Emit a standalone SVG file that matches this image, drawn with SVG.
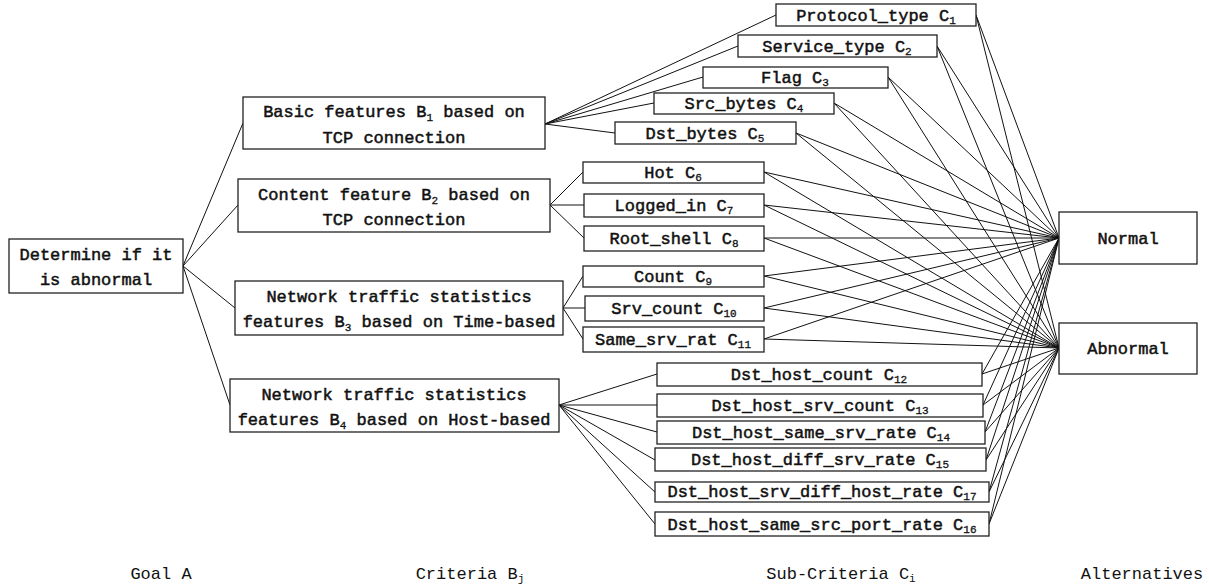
<svg xmlns="http://www.w3.org/2000/svg" width="1209" height="588" viewBox="0 0 1209 588">
<style>
rect{fill:#fff;stroke:#222;stroke-width:1.3}
#connectors line{stroke:#111;stroke-width:1}
text{font-family:"Liberation Mono","DejaVu Sans Mono",monospace;font-size:17px;fill:#111;text-anchor:middle;stroke:#111;stroke-width:0.5}
.s{font-size:11px;stroke-width:0.3}
#labels text{stroke:none}
</style>
<rect x="0" y="0" width="1209" height="588" style="stroke:none"/>
<g id="connectors">
<line x1="183" y1="266" x2="243" y2="123"/>
<line x1="183" y1="266" x2="238" y2="205"/>
<line x1="183" y1="266" x2="235" y2="308"/>
<line x1="183" y1="266" x2="230" y2="405"/>
<line x1="545" y1="124" x2="776" y2="15"/>
<line x1="545" y1="124" x2="738" y2="46"/>
<line x1="545" y1="124" x2="703" y2="77"/>
<line x1="545" y1="124" x2="654" y2="103"/>
<line x1="545" y1="124" x2="615" y2="133"/>
<line x1="550" y1="205" x2="583" y2="172"/>
<line x1="550" y1="205" x2="584" y2="205"/>
<line x1="550" y1="205" x2="584" y2="238"/>
<line x1="563" y1="308" x2="583" y2="276"/>
<line x1="563" y1="308" x2="585" y2="308"/>
<line x1="563" y1="308" x2="583" y2="339"/>
<line x1="559" y1="405" x2="657" y2="374"/>
<line x1="559" y1="405" x2="657" y2="405"/>
<line x1="559" y1="405" x2="657" y2="432"/>
<line x1="559" y1="405" x2="655" y2="460"/>
<line x1="559" y1="405" x2="655" y2="492"/>
<line x1="559" y1="405" x2="655" y2="524"/>
<line x1="976" y1="15" x2="1059" y2="238"/>
<line x1="937" y1="46" x2="1059" y2="238"/>
<line x1="888" y1="77" x2="1059" y2="238"/>
<line x1="834" y1="103" x2="1059" y2="238"/>
<line x1="796" y1="133" x2="1059" y2="238"/>
<line x1="764" y1="172" x2="1059" y2="238"/>
<line x1="764" y1="205" x2="1059" y2="238"/>
<line x1="764" y1="238" x2="1059" y2="238"/>
<line x1="764" y1="276" x2="1059" y2="238"/>
<line x1="764" y1="308" x2="1059" y2="238"/>
<line x1="764" y1="339" x2="1059" y2="238"/>
<line x1="982" y1="374" x2="1059" y2="238"/>
<line x1="983" y1="405" x2="1059" y2="238"/>
<line x1="985" y1="432" x2="1059" y2="238"/>
<line x1="986" y1="460" x2="1059" y2="238"/>
<line x1="989" y1="492" x2="1059" y2="238"/>
<line x1="989" y1="524" x2="1059" y2="238"/>
<line x1="976" y1="15" x2="1059" y2="348"/>
<line x1="937" y1="46" x2="1059" y2="348"/>
<line x1="888" y1="77" x2="1059" y2="348"/>
<line x1="834" y1="103" x2="1059" y2="348"/>
<line x1="796" y1="133" x2="1059" y2="348"/>
<line x1="764" y1="172" x2="1059" y2="348"/>
<line x1="764" y1="205" x2="1059" y2="348"/>
<line x1="764" y1="238" x2="1059" y2="348"/>
<line x1="764" y1="276" x2="1059" y2="348"/>
<line x1="764" y1="308" x2="1059" y2="348"/>
<line x1="764" y1="339" x2="1059" y2="348"/>
<line x1="982" y1="374" x2="1059" y2="348"/>
<line x1="983" y1="405" x2="1059" y2="348"/>
<line x1="985" y1="432" x2="1059" y2="348"/>
<line x1="986" y1="460" x2="1059" y2="348"/>
<line x1="989" y1="492" x2="1059" y2="348"/>
<line x1="989" y1="524" x2="1059" y2="348"/>
</g>
<g id="goal"><rect x="9" y="239" width="174" height="54"/><text x="96" y="260">Determine if it</text><text x="96" y="285">is abnormal</text></g>
<g id="B1"><rect x="243" y="97" width="302" height="52"/><text x="394" y="117">Basic features B<tspan class="s" dy="4">1</tspan><tspan dy="-4"> based on</tspan></text><text x="394" y="143">TCP connection</text></g>
<g id="B2"><rect x="238" y="179" width="312" height="53"/><text x="394" y="200">Content feature B<tspan class="s" dy="4">2</tspan><tspan dy="-4"> based on</tspan></text><text x="394" y="225">TCP connection</text></g>
<g id="B3"><rect x="235" y="281" width="328" height="54"/><text x="399" y="302">Network traffic statistics</text><text x="399" y="327">features B<tspan class="s" dy="4">3</tspan><tspan dy="-4"> based on Time-based</tspan></text></g>
<g id="B4"><rect x="230" y="379" width="329" height="53"/><text x="394" y="400">Network traffic statistics</text><text x="394" y="425">features B<tspan class="s" dy="4">4</tspan><tspan dy="-4"> based on Host-based</tspan></text></g>
<g id="C1"><rect x="776" y="4" width="200" height="22"/><text x="876" y="21">Protocol_type C<tspan class="s" dy="3">1</tspan></text></g>
<g id="C2"><rect x="738" y="35" width="199" height="22"/><text x="837" y="52">Service_type C<tspan class="s" dy="3">2</tspan></text></g>
<g id="C3"><rect x="703" y="67" width="185" height="21"/><text x="795" y="83">Flag C<tspan class="s" dy="3">3</tspan></text></g>
<g id="C4"><rect x="654" y="93" width="180" height="21"/><text x="744" y="109">Src_bytes C<tspan class="s" dy="3">4</tspan></text></g>
<g id="C5"><rect x="615" y="122" width="181" height="22"/><text x="705" y="139">Dst_bytes C<tspan class="s" dy="3">5</tspan></text></g>
<g id="C6"><rect x="583" y="162" width="181" height="21"/><text x="673" y="178">Hot C<tspan class="s" dy="3">6</tspan></text></g>
<g id="C7"><rect x="584" y="194" width="180" height="23"/><text x="674" y="211">Logged_in C<tspan class="s" dy="3">7</tspan></text></g>
<g id="C8"><rect x="584" y="226" width="180" height="25"/><text x="674" y="244">Root_shell C<tspan class="s" dy="3">8</tspan></text></g>
<g id="C9"><rect x="583" y="266" width="181" height="21"/><text x="673" y="282">Count C<tspan class="s" dy="3">9</tspan></text></g>
<g id="C10"><rect x="585" y="296" width="179" height="25"/><text x="674" y="314">Srv_count C<tspan class="s" dy="3">10</tspan></text></g>
<g id="C11"><rect x="583" y="327" width="181" height="25"/><text x="673" y="345">Same_srv_rat C<tspan class="s" dy="3">11</tspan></text></g>
<g id="C12"><rect x="657" y="363" width="325" height="23"/><text x="819" y="380">Dst_host_count C<tspan class="s" dy="3">12</tspan></text></g>
<g id="C13"><rect x="657" y="394" width="326" height="23"/><text x="820" y="411">Dst_host_srv_count C<tspan class="s" dy="3">13</tspan></text></g>
<g id="C14"><rect x="657" y="421" width="328" height="23"/><text x="821" y="438">Dst_host_same_srv_rate C<tspan class="s" dy="3">14</tspan></text></g>
<g id="C15"><rect x="655" y="448" width="331" height="23"/><text x="820" y="465">Dst_host_diff_srv_rate C<tspan class="s" dy="3">15</tspan></text></g>
<g id="C17"><rect x="655" y="482" width="334" height="20"/><text x="822" y="497">Dst_host_srv_diff_host_rate C<tspan class="s" dy="3">17</tspan></text></g>
<g id="C16"><rect x="655" y="512" width="334" height="24"/><text x="822" y="530">Dst_host_same_src_port_rate C<tspan class="s" dy="3">16</tspan></text></g>
<g id="normal"><rect x="1059" y="212" width="138" height="52"/><text x="1128" y="244">Normal</text></g>
<g id="abnormal"><rect x="1059" y="323" width="138" height="51"/><text x="1128" y="354">Abnormal</text></g>
<g id="labels">
<text x="161" y="579">Goal A</text>
<text x="470" y="579">Criteria B<tspan class="s" dy="3">j</tspan></text>
<text x="841" y="579">Sub-Criteria C<tspan class="s" dy="3">i</tspan></text>
<text x="1142" y="579">Alternatives</text>
</g>
</svg>
